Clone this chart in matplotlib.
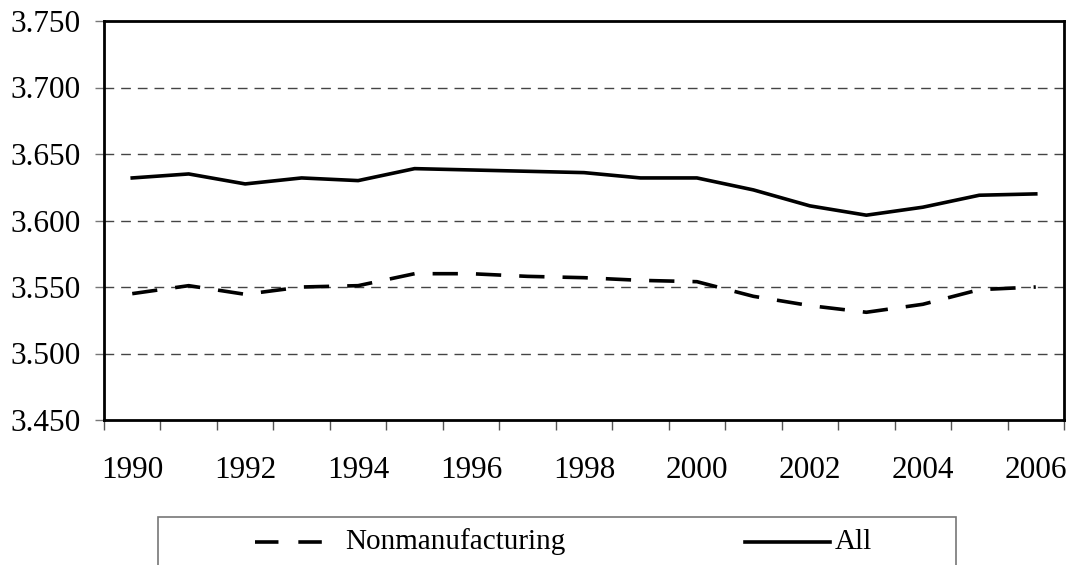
import matplotlib
matplotlib.use("Agg")
import matplotlib.pyplot as plt
from matplotlib.lines import Line2D
from matplotlib.patches import Rectangle

years = list(range(1990, 2007))
all_vals = [3.632, 3.635, 3.6275, 3.632, 3.630, 3.639, 3.638, 3.637, 3.636,
            3.632, 3.632, 3.623, 3.611, 3.604, 3.610, 3.619, 3.620]
nonmfg_vals = [3.545, 3.551, 3.5445, 3.550, 3.551, 3.560, 3.560, 3.558, 3.557,
               3.555, 3.554, 3.543, 3.536, 3.531, 3.537, 3.548, 3.550]
y_ticks = [3.450, 3.500, 3.550, 3.600, 3.650, 3.700, 3.750]
x_labels = [str(y) if (y - 1990) % 2 == 0 else "" for y in years]
series_names = ["Nonmanufacturing", "All"]

plt.rcParams['font.family'] = ['Liberation Serif', 'DejaVu Serif']
FS = 22.5
LFS = 21

W, H = 1074, 565
fig = plt.figure(figsize=(W / 100, H / 100), dpi=100)
ax = fig.add_axes([104 / W, 1 - 420 / H, (1064 - 104) / W, (420 - 21) / H])

x = list(range(len(years)))
ax.plot(x, all_vals, color='black', lw=2.6, zorder=3)
ax.plot(x, nonmfg_vals, color='black', lw=2.6, ls=(0, (7, 5)), zorder=3)

ax.set_xlim(-0.5, len(years) - 0.5)
ax.set_ylim(3.450, 3.750)
ax.set_yticks(y_ticks)
ax.set_yticklabels([f"{v:.3f}" for v in y_ticks], fontsize=FS)
for v in y_ticks[1:-1]:
    ax.axhline(v, color='#444444', lw=1.0, ls=(0, (7, 5)), zorder=1)

ax.set_xticks(x)
ax.set_xticklabels(x_labels, fontsize=FS)
ax.set_xticks([i - 0.5 for i in range(len(years) + 1)], minor=True)
ax.tick_params(axis='x', which='major', length=0, pad=26)
ax.tick_params(axis='x', which='minor', length=7.5, width=1, color='#555555', direction='out')
ax.tick_params(axis='y', which='major', length=6.5, width=1, color='#777777', pad=10.5)

for s in ax.spines.values():
    s.set_linewidth(2)
    s.set_color('black')

# legend box (extends past bottom edge like the reference)
rect = Rectangle((158 / W, -0.1), (956 - 158) / W, 0.1 + (1 - 517 / H),
                 transform=fig.transFigure, facecolor='white', edgecolor='#777777', lw=1.2)
fig.add_artist(rect)
ly = 1 - 542 / H
fig.add_artist(Line2D([255 / W, 323 / W], [ly, ly], transform=fig.transFigure,
                      color='black', lw=2.6, ls=(0, (6.5, 5.5))))
fig.text(345 / W, ly, series_names[0], fontsize=LFS, va='center', ha='left')
fig.add_artist(Line2D([745 / W, 830 / W], [ly, ly], transform=fig.transFigure,
                      color='black', lw=2.6))
fig.text(835 / W, ly, series_names[1], fontsize=LFS, va='center', ha='left')

fig.savefig("out.png", dpi=100)
